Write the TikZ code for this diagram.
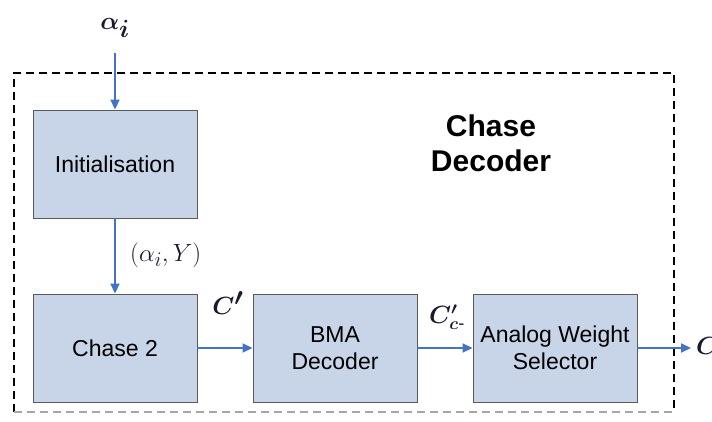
\documentclass[tikz,border=0pt]{standalone}
\usepackage{amsmath}
\usepackage{bm}
\usepackage{fontspec}
\setmainfont{Liberation Sans}
\usetikzlibrary{arrows.meta}
\definecolor{boxfill}{HTML}{C8D4E8}
\definecolor{boxline}{HTML}{5A5A5A}
\definecolor{flow}{HTML}{4472C4}
\definecolor{lbl}{HTML}{1A1A2E}
\tikzset{
  block/.style={draw=boxline, line width=0.9pt, fill=boxfill,
    minimum width=164pt, minimum height=108pt, align=center,
    font=\fontsize{23}{27}\selectfont, inner sep=0pt},
  flowarrow/.style={draw=flow, line width=1.8pt,
    -{Triangle[length=10pt,width=9pt]}},
  mathlbl/.style={text=lbl, inner sep=0pt},
  frame/.style={dash pattern=on 8pt off 5pt, line width=1.1pt}
}
\begin{document}
\begin{tikzpicture}[x=1pt,y=-1pt]
\useasboundingbox (0,0) rectangle (712,421);

% outer dashed frame
\draw[frame] (14,412) -- (14,73) -- (674,73) -- (674,412);
\draw[frame, draw=black!35] (14,412) -- (674,412);

\node[font=\bfseries\fontsize{30}{35}\selectfont, align=center] (title) at (491,143) {Chase\\Decoder};

% blocks
\node[block] (init) at (115,164) {Initialisation};
\node[block] (chase) at (115,348) {Chase 2};
\node[block] (bma) at (335,348) {BMA\\Decoder};
\node[block] (aws) at (555,348) {Analog Weight\\Selector};

% input and output ends
\coordinate (src) at (115,53);
\coordinate (sink) at (691,348);
\node[mathlbl, font=\fontsize{42}{42}\selectfont] (alphain) at (115,28) {$\bm{\alpha}_{\bm{i}}$};
\node[mathlbl, font=\fontsize{36}{36}\selectfont, anchor=west] (cout) at (696,346) {$\bm{C}$};

% connectors
\draw[flowarrow] (src) -- (init.north);
\draw[flowarrow] (init.south) -- (chase.north);
\draw[flowarrow] (chase.east) -- (bma.west);
\draw[flowarrow] (bma.east) -- (aws.west);
\draw[flowarrow] (aws.east) -- (sink);

% connector labels
\node[mathlbl, font=\fontsize{30}{30}\selectfont, anchor=west] (ay) at (130,255) {$(\alpha_i,Y)$};
\node[mathlbl, font=\fontsize{34}{34}\selectfont] (cp) at (228,303) {$\bm{C'}$};
\node[mathlbl, font=\fontsize{26}{26}\selectfont] (cpc) at (447,317) {$\bm{C'_{c\text{-}}}$};
\end{tikzpicture}
\end{document}
